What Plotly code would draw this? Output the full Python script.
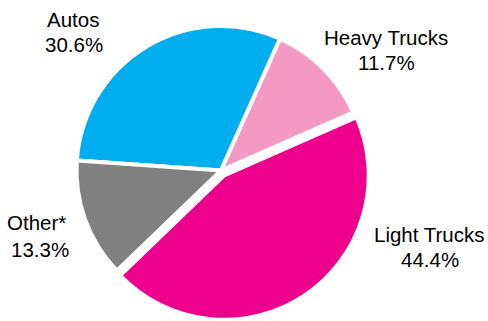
import plotly.graph_objects as go

# Data
labels = ["Autos", "Heavy Trucks", "Light Trucks", "Other*"]
values = [30.6, 11.7, 44.4, 13.3]

# Styles
colors = ["#00AEEF", "#F49AC2", "#EC008C", "#808080"]
pulls = [0, 0, 0.04, 0]

W, H = 488, 321
# label placement (pixel centers: name line, percent line)
label_pos = {
    "Autos": ((73, 19), (73.5, 44)),
    "Heavy Trucks": ((386, 37.5), (386.5, 62.5)),
    "Light Trucks": ((429, 234), (429.5, 259)),
    "Other*": ((36, 222.5), (39.5, 249)),
}

fig = go.Figure(go.Pie(
    labels=labels,
    values=values,
    sort=False,
    direction="clockwise",
    rotation=-86,
    pull=pulls,
    marker=dict(colors=colors, line=dict(color="white", width=4)),
    textinfo="none",
    hoverinfo="label+percent",
    showlegend=False,
    domain=dict(x=[0.1449, 0.7608], y=[0.0007, 0.937]),
))

font = dict(family="Liberation Sans, Arial, Helvetica, sans-serif", size=20.5, color="black")
for lab, val in zip(labels, values):
    (nx, ny), (px, py) = label_pos[lab]
    fig.add_annotation(x=nx / W, y=1 - ny / H, xref="paper", yref="paper",
                       text=lab, showarrow=False, xanchor="center", yanchor="middle", font=font)
    fig.add_annotation(x=px / W, y=1 - py / H, xref="paper", yref="paper",
                       text=f"{val:.1f}%", showarrow=False, xanchor="center", yanchor="middle", font=font)

fig.update_layout(
    width=W, height=H,
    margin=dict(l=0, r=0, t=0, b=0),
    paper_bgcolor="white",
    plot_bgcolor="white",
)

fig.write_html("out.html")
